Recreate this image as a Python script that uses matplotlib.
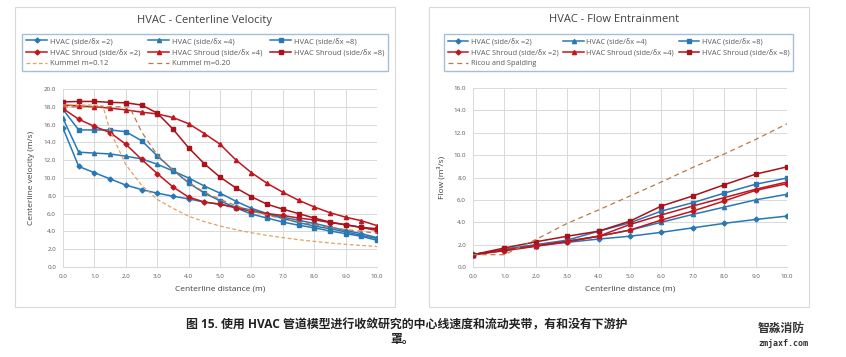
import numpy as np
import matplotlib.pyplot as plt
from matplotlib.patches import Rectangle

plt.rcParams['font.family'] = ['Open Sans', 'Noto Sans CJK SC', 'DejaVu Sans']

# ---- centerline velocity data (left) ----
x_vel = [0.0, 0.5, 1.0, 1.5, 2.0, 2.5, 3.0, 3.5, 4.0, 4.5, 5.0,
         5.5, 6.0, 6.5, 7.0, 7.5, 8.0, 8.5, 9.0, 9.5, 10.0]
hvac2_v = [15.6, 11.3, 10.6, 9.9, 9.2, 8.7, 8.3, 7.95, 7.65, 7.3, 7.05,
           6.75, 6.4, 6.0, 5.6, 5.25, 4.9, 4.5, 4.1, 3.75, 3.3]
hvac4_v = [16.7, 12.9, 12.8, 12.7, 12.45, 12.15, 11.55, 10.8, 10.0, 9.1, 8.3,
           7.4, 6.6, 6.0, 5.45, 5.0, 4.6, 4.3, 3.95, 3.55, 3.2]
hvac8_v = [17.7, 15.4, 15.4, 15.4, 15.2, 14.2, 12.5, 10.9, 9.45, 8.3, 7.45,
           6.65, 5.95, 5.5, 5.05, 4.7, 4.4, 4.05, 3.75, 3.45, 3.0]
shr2_v = [17.8, 16.6, 15.8, 15.1, 13.8, 12.1, 10.5, 9.0, 7.85, 7.3, 7.05,
          6.65, 6.25, 6.0, 5.8, 5.5, 5.3, 5.0, 4.75, 4.45, 4.1]
shr4_v = [18.2, 18.1, 18.0, 17.85, 17.65, 17.4, 17.2, 16.8, 16.1, 15.0, 13.8,
          12.05, 10.6, 9.4, 8.4, 7.5, 6.75, 6.1, 5.6, 5.2, 4.65]
shr8_v = [18.55, 18.6, 18.6, 18.5, 18.45, 18.2, 17.3, 15.5, 13.4, 11.6, 10.1,
          8.9, 7.9, 7.05, 6.5, 6.0, 5.5, 5.05, 4.75, 4.45, 4.3]

x_k12 = [0.0, 0.5, 1.0, 1.27, 1.5, 2.0, 2.5, 3.0, 3.5, 4.0, 4.5, 5.0,
         5.5, 6.0, 6.5, 7.0, 7.5, 8.0, 8.5, 9.0, 9.5, 10.0]
k12 = [18.2, 18.2, 18.2, 18.1, 15.3, 11.5, 9.2, 7.6, 6.6, 5.7, 5.1, 4.6,
       4.2, 3.85, 3.55, 3.3, 3.07, 2.88, 2.7, 2.55, 2.42, 2.3]
x_k20 = [0.0, 0.5, 1.0, 1.5, 2.0, 2.12, 2.5, 3.0, 3.5, 4.0, 4.5, 5.0,
         5.5, 6.0, 6.5, 7.0, 7.5, 8.0, 8.5, 9.0, 9.5, 10.0]
k20 = [18.0, 18.0, 18.0, 18.0, 18.0, 18.0, 15.2, 12.6, 10.9, 9.5, 8.4, 7.6,
       6.9, 6.3, 5.85, 5.4, 5.05, 4.75, 4.45, 4.2, 4.0, 3.8]

# ---- flow entrainment data (right) ----
x_flow = [0, 1, 2, 3, 4, 5, 6, 7, 8, 9, 10]
hvac2_q = [1.12, 1.5, 1.9, 2.2, 2.5, 2.75, 3.1, 3.5, 3.9, 4.25, 4.55]
hvac4_q = [1.1, 1.55, 1.9, 2.3, 2.75, 3.3, 4.0, 4.7, 5.35, 6.0, 6.5]
hvac8_q = [1.1, 1.6, 2.0, 2.4, 3.2, 3.95, 5.0, 5.75, 6.6, 7.4, 7.95]
shr2_q = [1.1, 1.45, 1.85, 2.25, 2.75, 3.3, 4.2, 5.0, 5.9, 6.85, 7.45]
shr4_q = [1.1, 1.5, 1.9, 2.3, 2.75, 3.8, 4.65, 5.45, 6.2, 6.95, 7.6]
shr8_q = [1.1, 1.7, 2.25, 2.75, 3.2, 4.1, 5.45, 6.35, 7.35, 8.3, 8.95]
ricou = [1.1, 1.1, 2.45, 3.9, 5.1, 6.35, 7.6, 8.9, 10.1, 11.4, 12.8]

labels = ['HVAC (side/δx =2)', 'HVAC (side/δx =4)', 'HVAC (side/δx =8)',
          'HVAC Shroud (side/δx =2)', 'HVAC Shroud (side/δx =4)', 'HVAC Shroud (side/δx =8)']
blue = '#2878B5'
red = '#C0161E'
dred = '#A8121A'
markers = ['D', '^', 's', 'D', '^', 's']
msizes = [2.5, 3, 3.5, 2.5, 3, 3.5]
colors = [blue, blue, blue, red, red, dred]

fig = plt.figure(figsize=(8.46, 3.57), dpi=100)

# panel frames
for x0, w in [(15, 380), (429, 380)]:
    fig.add_artist(Rectangle((x0 / 846, 1 - 307 / 357), w / 846, 300 / 357,
                             transform=fig.transFigure, fill=False,
                             edgecolor='#D9D9D9', linewidth=0.8))


def style(ax, ymax):
    ax.set_xlim(0, 10)
    ax.set_ylim(0, ymax)
    ax.set_xticks(np.arange(0, 11, 1))
    ax.set_yticks(np.arange(0, ymax + 0.1, 2))
    ax.set_xticklabels([f'{v:.1f}' for v in np.arange(0, 11, 1)])
    ax.set_yticklabels([f'{v:.1f}' for v in np.arange(0, ymax + 0.1, 2)])
    ax.grid(True, color='#D9D9D9', linewidth=0.7)
    ax.set_axisbelow(True)
    for s in ax.spines.values():
        s.set_visible(False)
    ax.spines['bottom'].set_visible(True)
    ax.spines['bottom'].set_color('#D9D9D9')
    ax.tick_params(length=0, labelsize=4.5, colors='#595959', pad=5)


def add_legend(ax, hs, box, fs):
    ax.legend(handles=hs, ncol=3, mode='expand', loc='center',
              bbox_to_anchor=box, bbox_transform=fig.transFigure,
              fontsize=fs, frameon=True, fancybox=False,
              edgecolor='#8FB0CF', handlelength=2.8, labelcolor='#595959',
              borderaxespad=0, handletextpad=0.3, columnspacing=0.5,
              borderpad=0.5)


# left chart
ax1 = fig.add_axes([63 / 846, 1 - 267 / 357, 314 / 846, 178 / 357])
series_v = [hvac2_v, hvac4_v, hvac8_v, shr2_v, shr4_v, shr8_v]
h = []
for i, ys in enumerate(series_v):
    ln, = ax1.plot(x_vel, ys, color=colors[i], marker=markers[i], ms=msizes[i],
                   lw=1.1, label=labels[i])
    h.append(ln)
hk1, = ax1.plot(x_k12, k12, color='#E3A15E', lw=0.9, dashes=(3, 2), label='Kummel m=0.12')
hk2, = ax1.plot(x_k20, k20, color='#B77A48', lw=0.9, dashes=(4, 3), label='Kummel m=0.20')
style(ax1, 20)
ax1.set_xlabel('Centerline distance (m)', fontsize=6, color='#404040', labelpad=5)
ax1.set_ylabel('Centerline velocity (m/s)', fontsize=6, color='#404040', labelpad=6)
# row-wise order for a column-filled legend
add_legend(ax1, [h[0], h[3], hk1, h[1], h[4], hk2, h[2], h[5]],
           (22 / 846, 1 - 74 / 357, 366 / 846, 43 / 357), 5.5)
fig.text(204 / 846, 1 - 20 / 357, 'HVAC - Centerline Velocity', ha='center',
         va='center', fontsize=8, color='#404040')

# right chart
ax2 = fig.add_axes([473 / 846, 1 - 267 / 357, 314 / 846, 179 / 357])
series_q = [hvac2_q, hvac4_q, hvac8_q, shr2_q, shr4_q, shr8_q]
h = []
for i, ys in enumerate(series_q):
    ln, = ax2.plot(x_flow, ys, color=colors[i], marker=markers[i], ms=msizes[i],
                   lw=1.1, label=labels[i])
    h.append(ln)
hr, = ax2.plot(x_flow, ricou, color='#B77A48', lw=0.9, dashes=(4, 3),
               label='Ricou and Spalding')
style(ax2, 16)
ax2.set_xlabel('Centerline distance (m)', fontsize=6, color='#404040', labelpad=5)
ax2.set_ylabel('Flow (m³/s)', fontsize=6, color='#404040', labelpad=6)
add_legend(ax2, [h[0], h[3], hr, h[1], h[4], h[2], h[5]],
           (444 / 846, 1 - 73 / 357, 349 / 846, 41 / 357), 5.3)
fig.text(614 / 846, 1 - 20 / 357, 'HVAC - Flow Entrainment', ha='center',
         va='center', fontsize=8, color='#404040')

# caption
fig.text(407 / 846, 1 - 325 / 357,
         '图 15. 使用 HVAC 管道模型进行收敛研究的中心线速度和流动夹带，有和没有下游护',
         ha='center', va='center', fontsize=8.6, fontweight='bold', color='#222222')
fig.text(402 / 846, 1 - 339 / 357, '罩。', ha='center', va='center',
         fontsize=8.6, fontweight='bold', color='#222222')

# watermark
fig.text(758 / 846, 1 - 328 / 357, '智淼消防', ha='left', va='center',
         fontsize=8.5, fontweight='bold', color='#333333')
fig.text(758 / 846, 1 - 343 / 357, 'zmjaxf.com', ha='left', va='center',
         fontsize=6, family='DejaVu Sans Mono', fontweight='bold', color='#333333')

fig.savefig('out.png', dpi=100)
